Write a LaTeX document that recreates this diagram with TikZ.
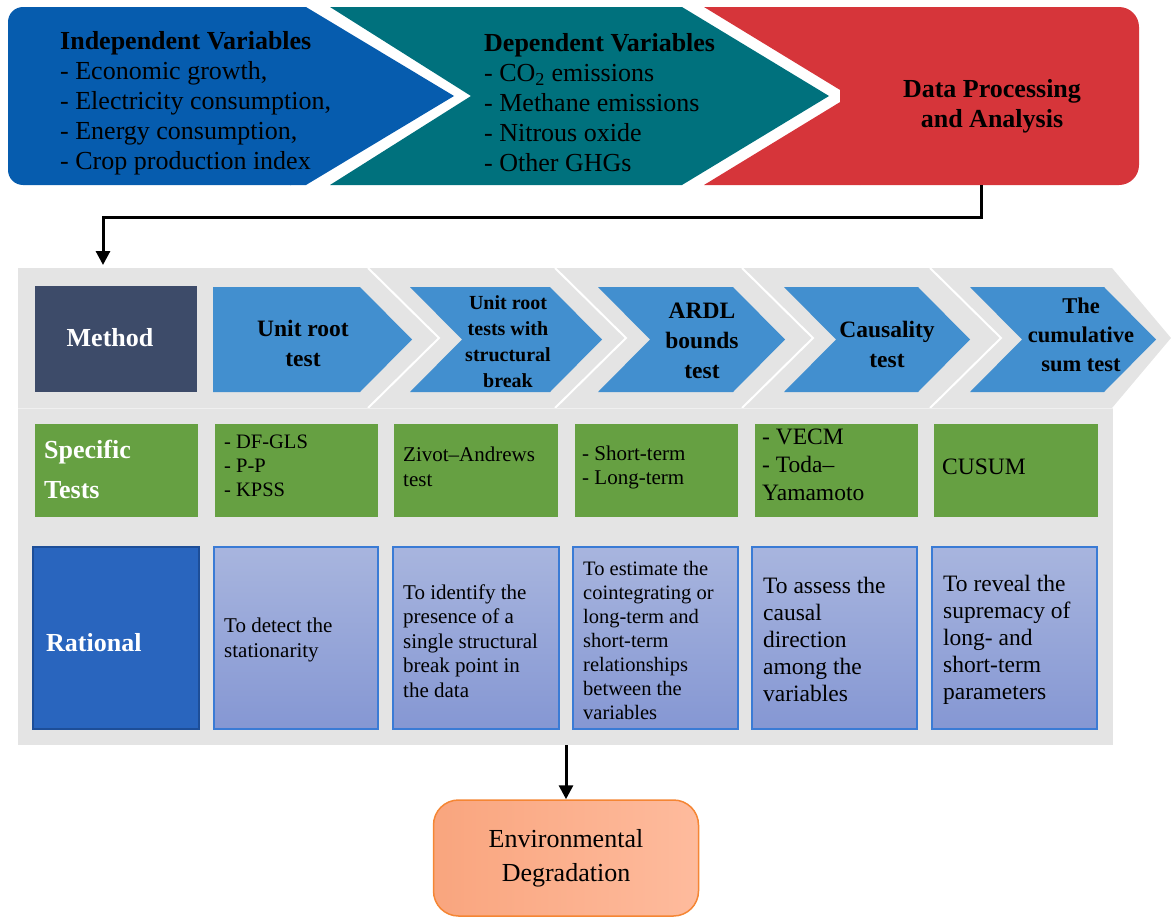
\documentclass[tikz,border=0pt]{standalone}
\usepackage{fontspec}
\setmainfont{Liberation Serif}
\usepackage{tikz}
\usetikzlibrary{arrows.meta}
\definecolor{varblue}{HTML}{065CAE}
\definecolor{varteal}{HTML}{00717D}
\definecolor{datared}{HTML}{D6353A}
\definecolor{bandgray}{HTML}{E4E4E4}
\definecolor{stepblue}{HTML}{428FCF}
\definecolor{methodnavy}{HTML}{3D4B69}
\definecolor{testgreen}{HTML}{66A042}
\definecolor{ratblue}{HTML}{2965BE}
\definecolor{ratedge}{HTML}{1D4E98}
\definecolor{boxtop}{HTML}{A8B5DE}
\definecolor{boxbot}{HTML}{8597D3}
\definecolor{boxedge}{HTML}{3A7BD5}
\definecolor{envleft}{HTML}{F9A57E}
\definecolor{envright}{HTML}{FEBB9D}
\definecolor{envedge}{HTML}{F58634}
\def\chevron[#1](#2:#3:#4:#5:#6:#7){\fill[#1] (#2,#4) -- (#3,#4) -- ({#3+#7},{(#4+#5)/2}) -- (#3,#5) -- (#2,#5) -- ({#2+#6},{(#4+#5)/2}) -- cycle;}
\def\fsz#1#2{\fontsize{#1}{#2}\selectfont}
\tikzset{
	lefttext/.style={inner sep=0pt, anchor=west, align=left},
	midtext/.style={inner sep=0pt, align=center},
	flowline/.style={line width=3pt, -{Triangle[length=14pt,width=14pt]}}
}

\begin{document}
\begin{tikzpicture}[x=1pt,y=-1pt]
			%%%%% START %%%%%
			\useasboundingbox (0,0) rectangle (1171,918);
			
			\fill[varblue, rounded corners=15pt] (8,7) rectangle (306,185);
			\chevron[varblue](290:306:7:185:0:148)
			\chevron[varteal](330:682:7:185:141:147)
			\chevron[datared](704:860:7:185:146:0)
			\fill[datared, rounded corners=20pt] (840,7) rectangle (1139,185);
			
			\node[lefttext, font=\fsz{26}{30}] (indep) at (60,103) {\textbf{Independent Variables}\\- Economic growth,\\- Electricity consumption,\\- Energy consumption,\\- Crop production index};
			\node[lefttext, font=\fsz{26}{30}] (dep) at (484,103) {\textbf{Dependent Variables}\\- CO\textsubscript{2} emissions\\- Methane emissions\\- Nitrous oxide\\- Other GHGs};
			\node[midtext, font=\bfseries\fsz{26}{30}] (data) at (992,106) {Data Processing\\and Analysis};
			
			\coordinate (datafoot) at (981,185);
			\coordinate (methodhead) at (103,265);
			\draw[flowline] (datafoot) -- ++(0,32) -| (methodhead);
			
			\chevron[bandgray](18:1112:268:408:0:59)
			\foreach \s in {368,555,742,930}
				\draw[white, line width=2pt] (\s,268) -- ({\s+71},338) -- (\s,408);
			\fill[bandgray] (18,408) rectangle (1113,745);
			\draw[white!45!bandgray, line width=1pt] (18,408.5) -- (1113,408.5);
			
			\fill[methodnavy] (35,286) rectangle (197,392);
			\chevron[stepblue](213:360:287:392:0:52)
			\foreach \l/\r in {410/550,598/733,784/918,970/1104}
				{\chevron[stepblue](\l:\r:287:392:52:52)}
			
			\node[midtext, white, font=\bfseries\fsz{26}{30}] (method) at (110,338) {Method};
			\node[midtext, font=\bfseries\fsz{23.5}{30}] (unitroot) at (303,343) {Unit root\\test};
			\node[midtext, font=\bfseries\fsz{20}{26}] (breaktest) at (508,342) {Unit root\\tests with\\structural\\break};
			\node[midtext, font=\bfseries\fsz{23.5}{30}] (ardl) at (702,341) {ARDL\\bounds\\test};
			\node[midtext, font=\bfseries\fsz{23.5}{30}] (causal) at (887,344) {Causality\\test};
			\node[midtext, font=\bfseries\fsz{22.5}{29}] (cusumhead) at (1081,335) {The\\cumulative\\sum test};
			
			\foreach \l/\r in {35/198,215/378,394/558,575/738,755/918,934/1098}
				\fill[testgreen] (\l,424) rectangle (\r,517);
			\node[lefttext, white, font=\bfseries\fsz{26}{40}] (spec) at (44,469) {Specific\\Tests};
			\node[lefttext, font=\fsz{20.5}{24}] (unitlist) at (224,466) {- DF-GLS\\- P-P\\- KPSS};
			\node[lefttext, font=\fsz{21}{25}] (zivot) at (403,467) {Zivot\textendash Andrews\\test};
			\node[lefttext, font=\fsz{21}{24}] (ardllist) at (582,467) {- Short-term\\- Long-term};
			\node[lefttext, font=\fsz{23.5}{28}] (causlist) at (762,465) {- VECM\\- Toda\textendash\\Yamamoto};
			\node[lefttext, font=\fsz{23.5}{28}] (cusum) at (942,467) {CUSUM};
			
			\draw[ratedge, fill=ratblue, line width=2pt] (33,547) rectangle (199,729);
			\foreach \l/\r in {214/378,393/559,573/738,752/917,932/1097}
				\draw[boxedge, line width=1.5pt, top color=boxtop, bottom color=boxbot] (\l,547) rectangle (\r,729);
			\node[lefttext, white, font=\bfseries\fsz{26}{30}] (rat) at (46,643) {Rational};
			\node[lefttext, font=\fsz{21}{25}] (rstat) at (224,640) {To detect the\\stationarity};
			\node[lefttext, font=\fsz{21}{24.5}] (rbreak) at (403,641) {To identify the\\presence of a\\single structural\\break point in\\the data};
			\node[lefttext, font=\fsz{20.5}{24}] (rcoint) at (583,640) {To estimate the\\cointegrating or\\long-term and\\short-term\\relationships\\between the\\variables};
			\node[lefttext, font=\fsz{23.5}{27}] (rcaus) at (763,639) {To assess the\\causal\\direction\\among the\\variables};
			\node[lefttext, font=\fsz{23.5}{27}] (rcusum) at (943,640) {To reveal the\\supremacy of\\long- and\\short-term\\parameters};
			
			\coordinate (bandfoot) at (566,745);
			\node[draw=envedge, line width=1.5pt, rounded corners=25pt, left color=envleft, right color=envright, minimum width=265pt, minimum height=116pt, align=center, font=\fsz{26}{34}] (env) at (566,858) {Environmental\\Degradation};
			\draw[flowline] (bandfoot) -- (env);
			
			%%%%% END %%%%%
\end{tikzpicture}
\end{document}
